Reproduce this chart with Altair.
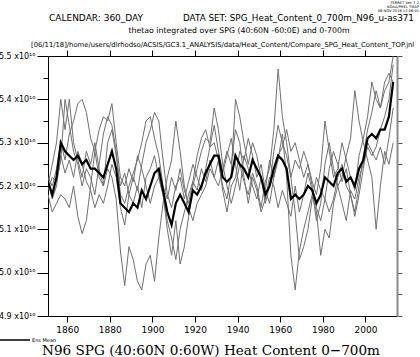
import altair as alt
import pandas as pd

# ---------------- data (values in units of 1e16) ----------------
years = list(range(1851, 2015, 2))

ens_mean = [5.21, 5.18, 5.22, 5.30, 5.28, 5.27, 5.26, 5.27, 5.25, 5.26,
            5.24, 5.24, 5.23, 5.22, 5.25, 5.28, 5.24, 5.16, 5.15, 5.14,
            5.16, 5.15, 5.19, 5.17, 5.20, 5.23, 5.24, 5.19, 5.14, 5.11,
            5.16, 5.18, 5.16, 5.14, 5.19, 5.18, 5.20, 5.23, 5.25, 5.27,
            5.27, 5.22, 5.21, 5.22, 5.27, 5.25, 5.24, 5.22, 5.26, 5.24,
            5.22, 5.18, 5.20, 5.24, 5.27, 5.26, 5.24, 5.17, 5.18, 5.17,
            5.18, 5.20, 5.19, 5.16, 5.18, 5.22, 5.21, 5.20, 5.23, 5.24,
            5.21, 5.22, 5.20, 5.24, 5.26, 5.31, 5.32, 5.31, 5.33, 5.33,
            5.36, 5.44]

member_1 = [5.20, 5.25, 5.30, 5.40, 5.33, 5.40, 5.30, 5.26, 5.22, 5.28,
            5.25, 5.30, 5.24, 5.20, 5.30, 5.33, 5.27, 5.20, 5.23, 5.18,
            5.22, 5.19, 5.25, 5.30, 5.33, 5.37, 5.35, 5.26, 5.18, 5.15,
            5.20, 5.22, 5.17, 5.21, 5.25, 5.22, 5.19, 5.24, 5.29, 5.30,
            5.26, 5.20, 5.17, 5.23, 5.40, 5.36, 5.30, 5.25, 5.30, 5.27,
            5.22, 5.16, 5.20, 5.28, 5.34, 5.30, 5.27, 5.22, 5.26, 5.24,
            5.28, 5.25, 5.21, 5.18, 5.24, 5.35, 5.28, 5.22, 5.24, 5.30,
            5.26, 5.22, 5.19, 5.27, 5.31, 5.36, 5.44, 5.40, 5.38, 5.42,
            5.44, 5.50]

member_2 = [5.18, 5.14, 5.16, 5.18, 5.17, 5.15, 5.20, 5.13, 5.09, 5.12,
            5.20, 5.28, 5.33, 5.36, 5.35, 5.39, 5.30, 5.22, 5.20, 5.24,
            5.21, 5.27, 5.24, 5.20, 5.16, 5.20, 5.22, 5.18, 5.10, 5.04,
            5.12, 5.02, 5.06, 5.13, 5.20, 5.24, 5.28, 5.31, 5.30, 5.38,
            5.33, 5.25, 5.20, 5.16, 5.20, 5.25, 5.21, 5.18, 5.23, 5.20,
            5.15, 5.21, 5.24, 5.33, 5.47, 5.36, 5.30, 5.22, 5.14, 5.03,
            5.06, 5.10, 5.17, 5.22, 5.19, 5.17, 5.14, 5.17, 5.22, 5.25,
            5.20, 5.18, 5.13, 5.18, 5.24, 5.30, 5.28, 5.26, 5.29, 5.25,
            5.31, 5.38]

member_3 = [5.22, 5.20, 5.24, 5.30, 5.26, 5.32, 5.35, 5.39, 5.40, 5.37,
            5.31, 5.28, 5.22, 5.20, 5.24, 5.22, 5.17, 5.05, 4.97, 5.06,
            5.03, 4.98, 4.96, 5.02, 5.04, 4.98, 5.08, 5.16, 5.22, 5.26,
            5.35, 5.28, 5.20, 5.15, 5.12, 5.16, 5.18, 5.20, 5.24, 5.22,
            5.26, 5.19, 5.14, 5.20, 5.22, 5.28, 5.26, 5.31, 5.27, 5.22,
            5.25, 5.19, 5.16, 5.22, 5.26, 5.32, 5.22, 5.04, 4.96, 5.05,
            5.10, 5.14, 5.18, 5.14, 5.04, 5.10, 5.08, 5.16, 5.20, 5.22,
            5.27, 5.31, 5.42, 5.35, 5.30, 5.26, 5.22, 5.10, 5.20, 5.28,
            5.25, 5.30]

member_4 = [5.19, 5.22, 5.21, 5.26, 5.40, 5.34, 5.28, 5.25, 5.20, 5.24,
            5.22, 5.18, 5.25, 5.32, 5.36, 5.34, 5.28, 5.18, 5.16, 5.20,
            5.23, 5.26, 5.30, 5.35, 5.36, 5.31, 5.27, 5.20, 5.17, 5.22,
            5.19, 5.24, 5.19, 5.16, 5.21, 5.27, 5.31, 5.33, 5.29, 5.34,
            5.28, 5.23, 5.27, 5.31, 5.25, 5.19, 5.27, 5.24, 5.20, 5.17,
            5.22, 5.19, 5.26, 5.22, 5.27, 5.29, 5.33, 5.28, 5.30, 5.26,
            5.22, 5.25, 5.20, 5.15, 5.12, 5.17, 5.24, 5.28, 5.25, 5.21,
            5.24, 5.18, 5.14, 5.20, 5.27, 5.33, 5.37, 5.42, 5.38, 5.44,
            5.46, 5.44]

member_5 = [5.21, 5.17, 5.20, 5.27, 5.23, 5.26, 5.22, 5.28, 5.25, 5.21,
            5.19, 5.15, 5.18, 5.16, 5.20, 5.25, 5.22, 5.15, 5.11, 5.18,
            5.16, 5.20, 5.15, 5.22, 5.24, 5.27, 5.22, 5.18, 5.12, 5.08,
            5.03, 5.10, 5.14, 5.18, 5.21, 5.19, 5.24, 5.21, 5.26, 5.22,
            5.20, 5.24, 5.28, 5.25, 5.33, 5.30, 5.22, 5.16, 5.22, 5.19,
            5.14, 5.17, 5.22, 5.20, 5.15, 5.19, 5.16, 5.13, 5.20, 5.14,
            5.18, 5.23, 5.19, 5.12, 5.16, 5.25, 5.30, 5.24, 5.20, 5.16,
            5.12, 5.19, 5.17, 5.22, 5.25, 5.29, 5.27, 5.29, 5.33, 5.36,
            5.40, 5.48]

x_tick_values = [1860, 1880, 1900, 1920, 1940, 1960, 1980, 2000]
y_tick_values = [4.9, 4.95, 5.0, 5.05, 5.1, 5.15, 5.2, 5.25, 5.3, 5.35,
                 5.4, 5.45, 5.5]

header_left = "CALENDAR: 360_DAY"
header_right = "DATA SET: SPG_Heat_Content_0_700m_N96_u-as371"
header_line2 = "thetao integrated over SPG (40:60N -60:0E) and 0-700m"
header_path = ("[06/11/18]/home/users/dlrhodso/ACSIS/GC3.1_ANALYSIS/data/"
               "Heat_Content/Compare_SPG_Heat_Content_TOP.jnl")
stamp_lines = ["FERRET Ver. 7.2", "NOAA/PMEL TMAP", "06-NOV-2018 12:06:01"]
legend_label = "Ens Mean"
bottom_title = "N96 SPG (40:60N 0:60W) Heat Content 0\u2212700m"

# ---------------- tables ----------------
members = {"1": member_1, "2": member_2, "3": member_3,
           "4": member_4, "5": member_5}
rows = []
for name, vals in members.items():
    for yr, v in zip(years, vals):
        rows.append({"member": name, "year": yr, "value": v})
df_members = pd.DataFrame(rows)
df_mean = pd.DataFrame({"year": years, "value": ens_mean})

W, H = 349, 260
PAD_L, PAD_T = 48, 56
xs = alt.Scale(domain=[1851, 2014.8], nice=False, zero=False)
ys = alt.Scale(domain=[4.9, 5.5], nice=False, zero=False)

SANS = "DejaVu Sans"
major = "round(datum.value*20) % 2 == 0"

members_layer = alt.Chart(df_members).mark_line(
    color="#707070", strokeWidth=1, clip=True
).encode(
    x=alt.X("year:Q", scale=xs, axis=alt.Axis(
        orient="bottom", values=x_tick_values, format="d", title=None,
        grid=False, tickSize=6, tickColor="black", domainColor="black",
        labelFont=SANS, labelFontSize=9, labelColor="black",
        labelPadding=3)),
    y=alt.Y("value:Q", scale=ys, axis=alt.Axis(
        orient="left", values=y_tick_values, title=None, grid=False,
        tickSize={"condition": {"test": major, "value": 11}, "value": 5},
        tickColor="black", domainColor="black",
        labelExpr=major + " ? format(datum.value, '.1f') + ' x10\u00b9\u2076' : ''",
        labelFont=SANS, labelFontSize=8, labelColor="black",
        labelPadding=2)),
    detail="member:N",
)

mean_layer = alt.Chart(df_mean).mark_line(
    color="black", strokeWidth=2.2, clip=True
).encode(
    x=alt.X("year:Q", scale=xs, axis=None),
    y=alt.Y("value:Q", scale=ys, axis=None),
)

frame_layer = alt.Chart(df_mean).mark_line(opacity=0).encode(
    x=alt.X("year:Q", scale=xs, axis=alt.Axis(
        orient="top", values=x_tick_values, labels=False, title=None,
        grid=False, tickSize=6, tickColor="black", domainColor="black")),
    y=alt.Y("value:Q", scale=ys, axis=alt.Axis(
        orient="right", values=y_tick_values, labels=False, title=None,
        grid=False, tickSize=5, tickColor="#555555",
        domainColor="#8a8a8a", domainWidth=2)),
)


def text_layer(txt, x, y, size, font=SANS, align="left", weight="normal"):
    return alt.Chart(pd.DataFrame({"t": [txt]})).mark_text(
        align=align, baseline="middle", font=font, fontSize=size,
        fontWeight=weight, color="black"
    ).encode(text="t:N", x=alt.value(x - PAD_L), y=alt.value(y - PAD_T))


texts = [
    text_layer(header_left, 49, 18, 9),
    text_layer(header_right, 183, 18, 8.8),
    text_layer(header_line2, 239, 31, 7.8, align="center"),
    text_layer(header_path, 31, 45, 6.8),
    text_layer(stamp_lines[0], 419, 2.5, 3.6, align="right"),
    text_layer(stamp_lines[1], 419, 6.5, 3.6, align="right"),
    text_layer(stamp_lines[2], 419, 10.5, 3.6, align="right"),
    text_layer(legend_label, 32, 340, 5),
    text_layer(bottom_title, 211, 351, 13.6, font="DejaVu Serif",
               align="center"),
]

legend_line = alt.Chart(pd.DataFrame({"t": [legend_label]})).mark_rule(
    color="black", strokeWidth=1.5
).encode(x=alt.value(0 - PAD_L), x2=alt.value(30 - PAD_L),
         y=alt.value(340 - PAD_T))

chart = alt.layer(
    members_layer, mean_layer, frame_layer, legend_line, *texts
).resolve_scale(x="independent", y="independent").properties(
    width=W, height=H,
    autosize=alt.AutoSizeParams(type="none"),
    padding={"left": PAD_L, "top": PAD_T, "right": 420 - PAD_L - W,
             "bottom": 357 - PAD_T - H},
    background="white",
).configure_view(stroke=None)

chart.save("out.html", embed_options={"renderer": "svg", "actions": False})
